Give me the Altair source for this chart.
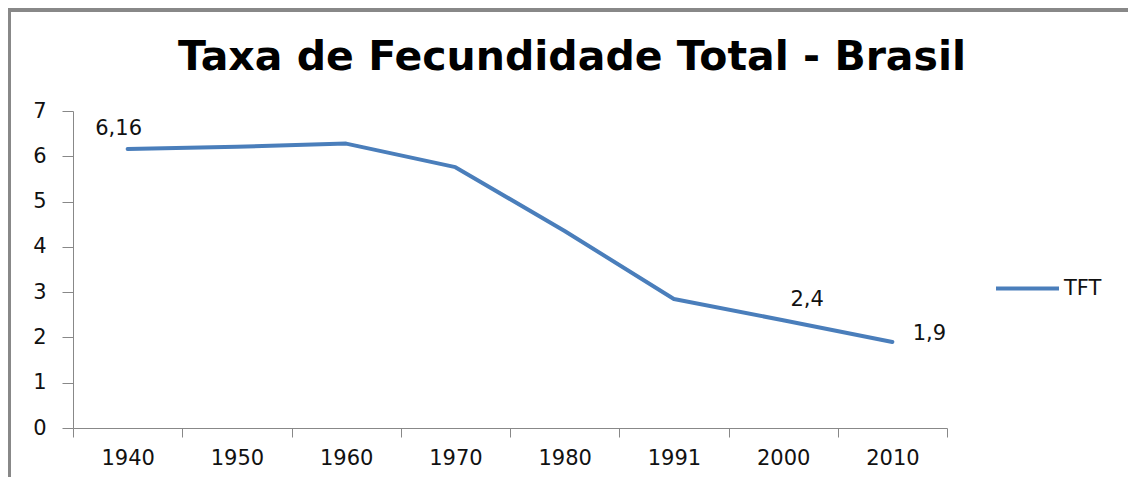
import altair as alt
import pandas as pd

years = ["1940", "1950", "1960", "1970", "1980", "1991", "2000", "2010"]
tft = [6.16, 6.21, 6.28, 5.76, 4.35, 2.85, 2.38, 1.90]
point_labels = ["6,16", "", "", "", "", "", "2,4", "1,9"]
series = "TFT"

df = pd.DataFrame({"ano": years, "tft": tft, "rotulo": point_labels, "serie": [series] * len(years)})

FONT = "DejaVu Sans"
LINE = "#4A7EBB"
GRAY = "#888888"
FS = 21

x = alt.X("ano:N", sort=years, title=None,
          scale=alt.Scale(paddingInner=0, paddingOuter=0),
          axis=alt.Axis(labelAngle=0, tickBand="extent", tickSize=9, labelPadding=10,
                        labelFontSize=FS, labelFont=FONT, labelColor="#111111",
                        domainColor=GRAY, tickColor=GRAY, grid=False))
y = alt.Y("tft:Q", title=None,
          scale=alt.Scale(domain=[0, 7], nice=False),
          axis=alt.Axis(values=[0, 1, 2, 3, 4, 5, 6, 7], tickSize=11, labelPadding=16,
                        labelFontSize=FS, labelFont=FONT, labelColor="#111111",
                        domainColor=GRAY, tickColor=GRAY, grid=False))

line = alt.Chart(df).mark_line(strokeWidth=4, strokeCap="round", strokeJoin="round").encode(
    x=x, y=y,
    color=alt.Color("serie:N", scale=alt.Scale(domain=[series], range=[LINE]),
                    legend=alt.Legend(title=None, orient="none", legendX=921, legendY=144,
                                      symbolType="stroke", symbolSize=3969, symbolStrokeWidth=4,
                                      symbolStrokeColor=LINE,
                                      labelFontSize=FS, labelFont=FONT, labelColor="#111111",
                                      labelOffset=3, padding=0))
)

def lbl(idx, dx, dy, align):
    return alt.Chart(df).transform_filter(
        alt.datum.ano == years[idx]
    ).mark_text(font=FONT, fontSize=FS, color="#111111", dx=dx, dy=dy, align=align,
                baseline="middle").encode(x=x, y=y, text="rotulo:N")

labels = lbl(0, -9, -20, "center") + lbl(6, 24, -20, "center") + lbl(7, 37, -8, "center")

frame_left = alt.Chart(df).mark_rule(color=GRAY, strokeWidth=3).encode(
    x=alt.value(-64), y=alt.value(-103), y2=alt.value(370))
frame_top = alt.Chart(df).mark_rule(color=GRAY, strokeWidth=3).encode(
    x=alt.value(-65), x2=alt.value(1060), y=alt.value(-101))

chart = alt.layer(frame_left, frame_top, line, labels).properties(
    width=874, height=317,
    autosize=alt.AutoSizeParams(type="none"),
    padding={"left": 65, "top": 103, "right": 181, "bottom": 49},
    title=alt.TitleParams("Taxa de Fecundidade Total - Brasil", font=FONT, fontSize=41,
                          fontWeight="bold", color="#000000", anchor="middle", frame="group",
                          dx=62, offset=-104, baseline="alphabetic"),
).configure_view(stroke=None)

chart.save("out.html", embed_options={"renderer": "svg", "actions": False})
